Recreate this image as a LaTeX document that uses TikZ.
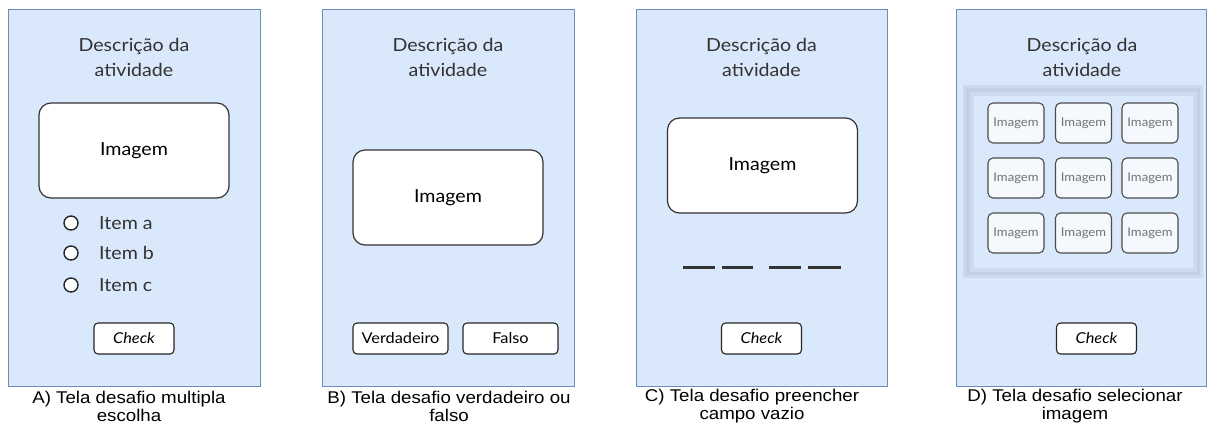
\documentclass[tikz,border=0pt]{standalone}
\usepackage{fontspec}
\setmainfont{Lato}[FakeStretch=1.09]
\newfontfamily\captionfont{Liberation Sans}[FakeStretch=1.1]
\usetikzlibrary{positioning}
\definecolor{screenblue}{HTML}{DAE8FC}
\definecolor{screenedge}{HTML}{6C8EBF}
\definecolor{framedark}{HTML}{C3CFE3}
\definecolor{framelight}{HTML}{CDD9EC}
\definecolor{thumbfill}{HTML}{F5F8FD}

\begin{document}
\begin{tikzpicture}[
  x=1pt, y=-1pt,
  screen/.style={
    draw=screenedge,
    fill=screenblue,
    line width=1pt,
    minimum width=252pt,
    minimum height=377pt,
    inner sep=0pt,
  },
  heading/.style={
    align=center,
    text=black!80,
    font=\fontsize{18}{25}\selectfont,
  },
  imagebox/.style={
    draw=black!80,
    fill=white,
    line width=1.2pt,
    rounded corners=12pt,
    minimum width=190pt,
    minimum height=95pt,
    font=\fontsize{18}{20}\selectfont,
  },
  button/.style={
    draw=black!85,
    fill=white,
    line width=1.1pt,
    rounded corners=4pt,
    minimum width=80pt,
    minimum height=31pt,
    inner sep=0pt,
    font=\fontsize{15}{17}\selectfont,
  },
  radio/.style={
    draw=black!85,
    fill=white,
    circle,
    line width=1.4pt,
    minimum size=14pt,
    inner sep=0pt,
  },
  thumb/.style={
    draw=black!70,
    fill=thumbfill,
    line width=1.1pt,
    rounded corners=5pt,
    minimum width=56pt,
    minimum height=40pt,
    inner sep=0pt,
    text=black!55,
    font=\fontsize{12}{14}\selectfont,
  },
  blank/.style={
    draw=black!80,
    line width=3pt,
  },
  legend/.style={
    align=center,
    font=\captionfont\fontsize{17}{18}\selectfont,
  }
]
  \useasboundingbox (0,0) rectangle (1207,432);

  % === A: multipla escolha ===
  \node[screen] (scr-a) at (134, 197.5) {};
  \node[heading] (desc-a) at (134, 57) {Descrição da\\atividade};
  \node[imagebox] (img-a) at (134, 150.5) {Imagem};
  \node[radio] (opt-a) at (71, 223) {};
  \node[radio] (opt-b) at (71, 253) {};
  \node[radio] (opt-c) at (71, 285) {};
  \node[heading, anchor=west, right=17pt of opt-a] (item-a) {Item a};
  \node[heading, anchor=west, right=17pt of opt-b] (item-b) {Item b};
  \node[heading, anchor=west, right=17pt of opt-c] (item-c) {Item c};
  \node[button] (chk-a) at (134, 338.5) {\itshape Check};
  \node[legend] (cap-a) at (129, 406) {A) Tela desafio multipla\\escolha};

  % === B: verdadeiro ou falso ===
  \node[screen] (scr-b) at (448, 197.5) {};
  \node[heading] (desc-b) at (448, 57) {Descrição da\\atividade};
  \node[imagebox] (img-b) at (448, 197.5) {Imagem};
  \node[button, minimum width=95pt] (btn-true) at (400.5, 338.5) {Verdadeiro};
  \node[button, minimum width=95pt] (btn-false) at (510.5, 338.5) {Falso};
  \node[legend] (cap-b) at (449, 406) {B) Tela desafio verdadeiro ou\\falso};

  % === C: preencher campo vazio ===
  \node[screen, minimum width=251pt] (scr-c) at (761.5, 197.5) {};
  \node[heading] (desc-c) at (761.5, 57) {Descrição da\\atividade};
  \node[imagebox] (img-c) at (762.5, 165.5) {Imagem};
  % blanks to fill in
  \foreach \xa/\xb in {683/715, 722/753, 769/801, 808/841}
    \draw[blank] (\xa, 267) -- (\xb, 267);
  \node[button] (chk-c) at (761.5, 338.5) {\itshape Check};
  \node[legend] (cap-c) at (752, 406) {C) Tela desafio preencher\\campo vazio};

  % === D: selecionar imagem ===
  \node[screen, minimum width=250pt] (scr-d) at (1081.5, 197.5) {};
  \node[heading] (desc-d) at (1082, 57) {Descrição da\\atividade};
  % grid frame
  \fill[framelight] (963, 85) rectangle (1203, 278);
  \fill[framedark] (966, 88) rectangle (1200, 275);
  \fill[framelight] (970, 92) rectangle (1197, 272);
  \fill[screenblue] (974, 96) rectangle (1193, 268);
  \foreach \r/\y in {1/123, 2/178, 3/233}
    \foreach \c/\x in {1/1016, 2/1083.5, 3/1150}
      \node[thumb] (thumb-\r-\c) at (\x, \y) {Imagem};
  \node[button] (chk-d) at (1096.5, 338.5) {\itshape Check};
  \node[legend] (cap-d) at (1075, 406) {D) Tela desafio selecionar\\imagem};

\end{tikzpicture}
\end{document}
